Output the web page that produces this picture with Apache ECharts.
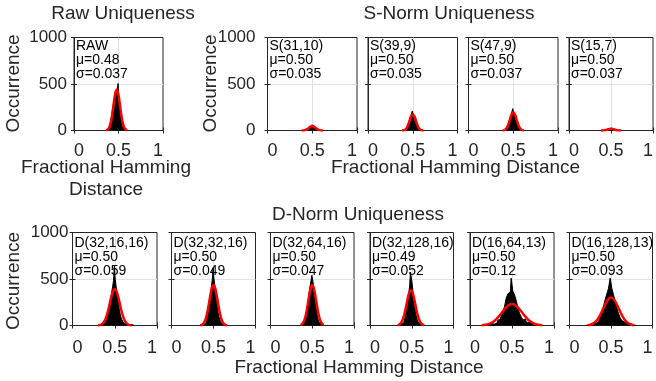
<!DOCTYPE html>
<html><head><meta charset="utf-8">
<script src="https://cdn.jsdelivr.net/npm/echarts@6/dist/echarts.min.js"></script>
<style>html,body{margin:0;padding:0;background:#fff}#c{width:656px;height:381px}</style>
</head><body><div id="c"></div>
<script>
// ---------------- data ----------------
const panelNames  = ['RAW','S(31,10)','S(39,9)','S(47,9)','S(15,7)','D(32,16,16)','D(32,32,16)','D(32,64,16)','D(32,128,16)','D(16,64,13)','D(16,128,13)'];
const panelMu     = ['0.48','0.50','0.50','0.50','0.50','0.50','0.50','0.50','0.49','0.50','0.50'];
const panelSigma  = ['0.037','0.035','0.035','0.037','0.037','0.059','0.049','0.047','0.052','0.12','0.093'];
const groupTitles = ['Raw Uniqueness','S-Norm Uniqueness','D-Norm Uniqueness'];
const xTickValues = [0, 0.5, 1];
const yTickValues = [0, 500, 1000];

// histogram: first bin centre, bin width, counts
const histStart = [0.37,0.40,0.40,0.40,0.40,0.30,0.36,0.37,0.35,0.14,0.20];
const histStep  = [0.01,0.01,0.01,0.01,0.01,0.01,0.01,0.01,0.01,0.02,0.02];
const histRAW = [3,8,20,38,70,110,170,240,300,360,400,420,430,505,330,240,170,110,70,40,20,8,3];
const histS1  = [1,2,4,7,11,18,26,34,42,47,52,47,42,34,26,18,11,7,4,2,1];
const histS2  = [3,6,13,24,40,63,90,120,150,165,210,170,145,118,92,62,40,24,13,6,3];
const histS3  = [5,10,19,33,52,78,108,140,165,185,235,190,168,138,110,77,52,33,19,10,5];
const histS4  = [1,1,2,3,5,8,11,14,17,19,22,19,17,14,11,8,5,3,2,1,1];
const histD1  = [3,4,5,6,8,10,12,15,20,28,40,60,90,130,180,240,300,360,420,480,640,500,430,360,290,230,170,120,85,60,42,30,22,17,14,12,10,9,8,10,12,8,5,3];
const histD2  = [4,6,9,14,22,35,55,85,130,190,260,340,420,490,620,510,430,350,270,200,140,95,62,40,26,17,12,9,7,6,5,4];
const histD3  = [4,7,12,20,33,55,90,140,210,290,370,430,480,540,490,430,360,280,200,135,85,52,30,18,10,6,4];
const histD4  = [3,5,8,13,20,32,50,75,110,160,220,290,350,430,575,510,450,360,280,210,150,100,65,42,27,17,11,7,4,3];
const histD5  = [3,5,8,4,12,6,20,15,35,25,55,70,100,150,200,290,340,360,510,370,330,270,190,130,95,60,70,40,30,45,20,12,15,8,5,3,2];
const histD6  = [3,5,8,6,12,18,25,40,60,95,150,210,280,340,400,510,400,330,260,190,130,85,55,38,25,16,10,12,6,4,2];

// fitted curve samples: first x, x step, values
const fitStart = [0.36,0.38,0.38,0.38,0.38,0.30,0.34,0.36,0.33,0.14,0.22];
const fitStep  = [0.02,0.02,0.02,0.02,0.02,0.02,0.02,0.02,0.02,0.04,0.04];
const fitRAW = [2,11,42,118,245,380,440,380,245,118,42,11,2];
const fitS1  = [0,1,4,12,26,42,50,42,26,12,4,1,0];
const fitS2  = [1,3,13,40,91,149,175,149,91,40,13,3,1];
const fitS3  = [1,5,19,52,109,168,195,168,109,52,19,5,1];
const fitS4  = [0,1,2,5,11,17,20,17,11,5,2,1,0];
const fitD1  = [1,4,10,24,49,93,156,234,312,370,392,370,312,234,156,93,49,24,10,4,1];
const fitD2  = [2,7,22,54,115,206,312,400,435,400,312,206,115,54,22,7,2];
const fitD3  = [5,17,45,102,193,303,397,435,397,303,193,102,45,17,5];
const fitD4  = [3,10,27,60,116,195,283,353,380,353,283,195,116,60,27,10,3];
const fitD5  = [3,7,15,31,57,95,140,184,218,230,218,184,140,95,57,31,15,7,3];
const fitD6  = [3,11,30,68,131,207,274,300,274,207,131,68,30,11,3];

const histAll = [histRAW,histS1,histS2,histS3,histS4,histD1,histD2,histD3,histD4,histD5,histD6];
const fitAll  = [fitRAW,fitS1,fitS2,fitS3,fitS4,fitD1,fitD2,fitD3,fitD4,fitD5,fitD6];

// ---------------- layout ----------------
const FONT = "'Liberation Sans', Arial, Helvetica, sans-serif";
const TXT = '#262626';
const layout = [
  {l:74,   t:37.5, w:89,   h:93, ylab:true,  ym:7,  xm:12},
  {l:267.5,t:37.5, w:89.5, h:93, ylab:true,  ym:12, xm:12},
  {l:368,  t:37.5, w:89.5, h:93, ylab:false, xm:12},
  {l:468.5,t:37.5, w:89.5, h:93, ylab:false, xm:12},
  {l:569,  t:37.5, w:89.5, h:93, ylab:false, xm:12},
  {l:72.5, t:232.5,w:84.5, h:93, ylab:true,  ym:4,  xm:14},
  {l:171.5,t:232.5,w:84,   h:93, ylab:false, xm:14},
  {l:270.5,t:232.5,w:83.5, h:93, ylab:false, xm:14},
  {l:370,  t:232.5,w:83.5, h:93, ylab:false, xm:14},
  {l:470,  t:232.5,w:84,   h:93, ylab:false, xm:14},
  {l:569.5,t:232.5,w:83,   h:93, ylab:false, xm:14}
];

const grids=[], xAxes=[], yAxes=[], series=[], graphics=[];
layout.forEach((g,i)=>{
  grids.push({left:g.l, top:g.t, width:g.w, height:g.h, show:true, borderColor:TXT, borderWidth:1, backgroundColor:'#fff', containLabel:false});
  xAxes.push({
    type:'value', gridIndex:i, min:xTickValues[0], max:xTickValues[xTickValues.length-1], interval:xTickValues[1]-xTickValues[0],
    axisLine:{show:true, lineStyle:{color:TXT, width:1}},
    axisTick:{show:true, inside:true, length:3, lineStyle:{color:TXT}},
    splitLine:{show:true, showMinLine:false, showMaxLine:false, lineStyle:{color:'#e1e1e1', width:1}},
    axisLabel:{show:true, color:TXT, fontFamily:FONT, fontSize:18, margin:g.xm, alignMinLabel:'left', alignMaxLabel:'right',
      formatter:v=>String(v)}
  });
  xAxes.push({
    type:'value', gridIndex:i, position:'top', min:xTickValues[0], max:xTickValues[xTickValues.length-1], interval:xTickValues[1]-xTickValues[0],
    axisLine:{show:false}, axisTick:{show:true, inside:true, length:3, lineStyle:{color:TXT}},
    splitLine:{show:false}, axisLabel:{show:false}
  });
  yAxes.push({
    type:'value', gridIndex:i, min:yTickValues[0], max:yTickValues[yTickValues.length-1], interval:yTickValues[1]-yTickValues[0],
    axisLine:{show:true, lineStyle:{color:TXT, width:1}},
    axisTick:{show:true, inside:true, length:3, lineStyle:{color:TXT}},
    splitLine:{show:true, showMinLine:false, showMaxLine:false, lineStyle:{color:'#e1e1e1', width:1}},
    axisLabel:{show:g.ylab, color:TXT, fontFamily:FONT, fontSize:17, margin:g.ym||8, formatter:v=>String(v)}
  });
  yAxes.push({
    type:'value', gridIndex:i, position:'right', min:yTickValues[0], max:yTickValues[yTickValues.length-1], interval:yTickValues[1]-yTickValues[0],
    axisLine:{show:false}, axisTick:{show:true, inside:true, length:3, lineStyle:{color:TXT}},
    splitLine:{show:false}, axisLabel:{show:false}
  });
  const h = histAll[i].map((v,k)=>[+(histStart[i]+k*histStep[i]).toFixed(4), v]);
  series.push({type:'line', xAxisIndex:2*i, yAxisIndex:2*i, data:h, step:'middle', symbol:'none', silent:true,
    lineStyle:{color:'#000', width:1}, areaStyle:{color:'#000', opacity:1}, z:2, animation:false});
  const f = fitAll[i].map((v,k)=>[+(fitStart[i]+k*fitStep[i]).toFixed(4), v]);
  series.push({type:'line', xAxisIndex:2*i, yAxisIndex:2*i, data:f, smooth:0.4, symbol:'none', silent:true,
    lineStyle:{color:'#ff0000', width:2.5}, z:3, animation:false});
  graphics.push({type:'text', left:g.l+2, top:g.t+(i>=5?4:2), z:100,
    style:{text:panelNames[i]+'\nμ='+panelMu[i]+'\nσ='+panelSigma[i], fill:'#000', font:'14px '+FONT, lineHeight:14}});
});

function label(text,x,y,rot){
  return {type:'text', x:x, y:y, rotation:rot||0, z:100,
    style:{text:text, fill:TXT, font:'19px '+FONT, align:'center', verticalAlign:'middle', lineHeight:22}};
}
graphics.push(label(groupTitles[0],123,13.5));
graphics.push(label(groupTitles[1],449,13.5));
graphics.push(label(groupTitles[2],358,215));
graphics.push(label('Occurrence',14,83.5,Math.PI/2));
graphics.push(label('Occurrence',211,83.5,Math.PI/2));
graphics.push(label('Occurrence',14,281,Math.PI/2));
graphics.push(label('Fractional Hamming\nDistance',106,179));
graphics.push(label('Fractional Hamming Distance',455.5,168));
graphics.push(label('Fractional Hamming Distance',359,368));

const chart = echarts.init(document.getElementById('c'), null, {renderer:'canvas'});
chart.setOption({animation:false, backgroundColor:'#fff', grid:grids, xAxis:xAxes, yAxis:yAxes, series:series, graphic:graphics});
</script></body></html>
